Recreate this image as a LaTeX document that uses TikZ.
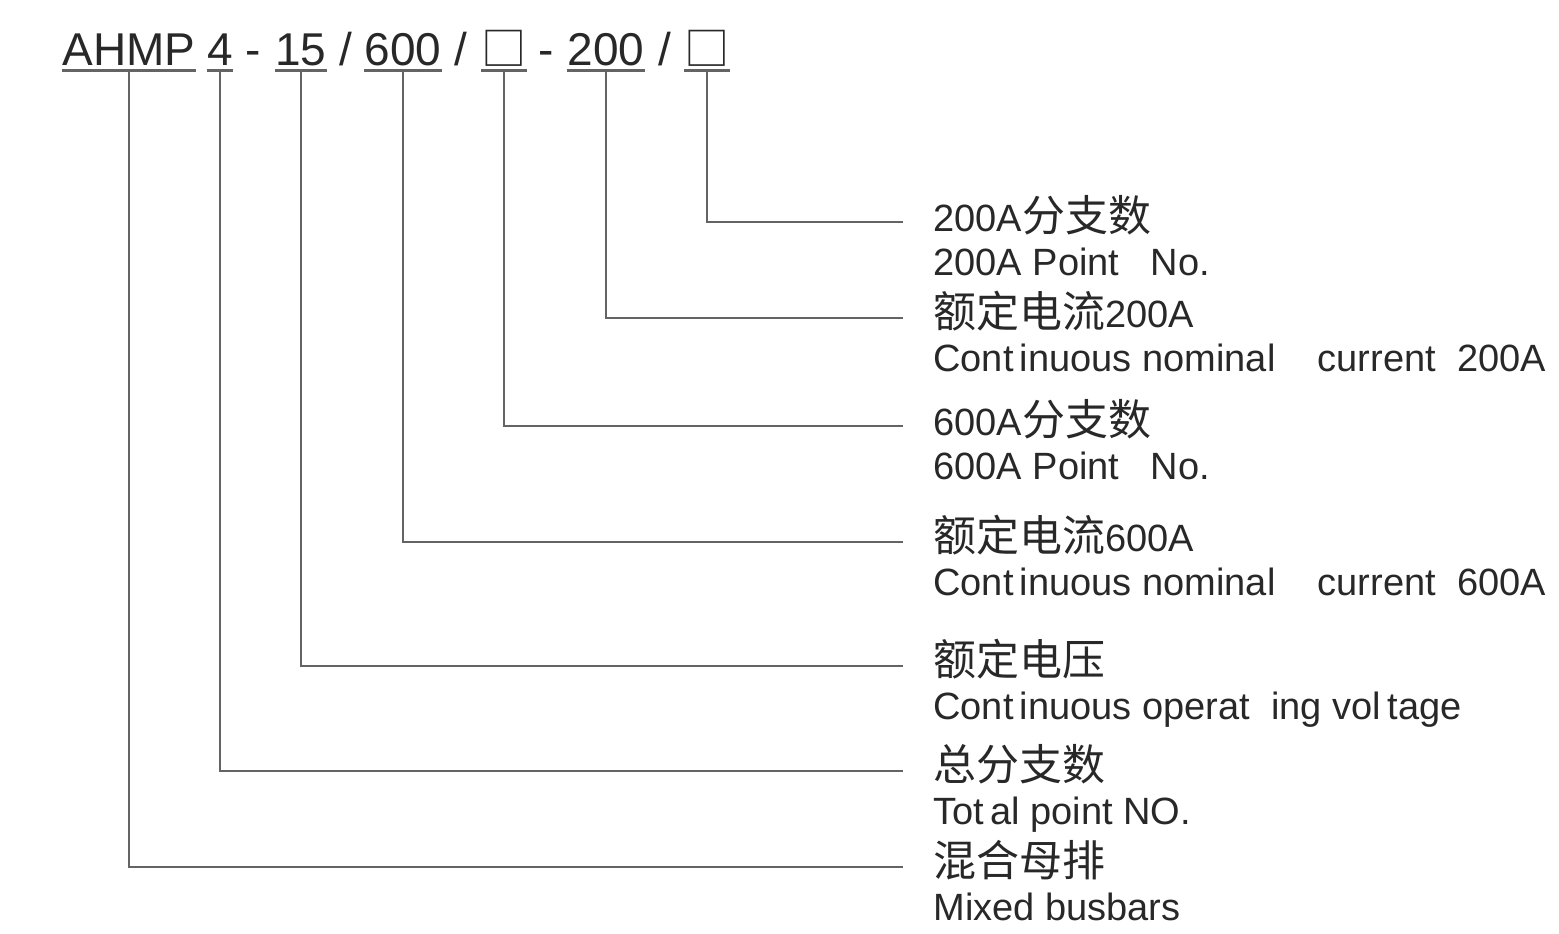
\documentclass[tikz,border=0pt]{standalone}
\usepackage{fontspec}
\setmainfont{Liberation Sans}
\newfontfamily\cjk[Scale=1.13]{Noto Sans CJK SC}
\usetikzlibrary{positioning}
\definecolor{mytext}{RGB}{40,40,40}
\definecolor{mylead}{RGB}{100,100,100}
\tikzset{
  codepart/.style={anchor=base, inner xsep=0pt, inner ysep=2.5pt, text depth=0pt,
    font=\fontsize{23}{27}\selectfont, text=mytext},
  cnlabel/.style={anchor=west, inner sep=0pt, text height=13pt, text depth=4pt,
    font=\fontsize{19}{23}\selectfont, text=mytext},
  enlabel/.style={anchor=base west, inner sep=0pt,
    font=\fontsize{19}{23}\selectfont, text=mytext},
  lead/.style={line width=1.3pt, color=mylead, shorten >=15pt},
  uline/.style={line width=1.3pt, color=mylead}
}
\newcommand{\slotbox}{{\cjk\fontsize{20}{24}\selectfont □}}

\begin{document}
\begin{tikzpicture}[x=0.5pt, y=-0.5pt]
  \useasboundingbox (0,0) rectangle (1559,933);

  % Type code
  \node[codepart] (hAHMP) at (129,65) {AHMP};
  \node[codepart] (hTotal) at (220,65) {4};
  \node[codepart] (s1) at (253,65) {-};
  \node[codepart] (hVolt) at (301,65) {15};
  \node[codepart] (s2) at (346,65) {/};
  \node[codepart] (hCur6) at (403,65) {600};
  \node[codepart] (s3) at (461,65) {/};
  \node[codepart] (hPt6) at (504,65) {\slotbox};
  \node[codepart] (s4) at (546,65) {-};
  \node[codepart] (hCur2) at (606,65) {200};
  \node[codepart] (s5) at (665,65) {/};
  \node[codepart] (hPt2) at (707,65) {\slotbox};

  \foreach \p in {hAHMP, hTotal, hVolt, hCur6, hPt6, hCur2, hPt2}
    \draw[uline] (\p.south west) -- (\p.south east);

  % Labels
  \node[cnlabel] (cPt2) at (933,222) {200A{\cjk 分支数}};
  \node[enlabel] (ePt2) at ([yshift=-22pt]cPt2.base west) {200A Point\ \ \ No.};

  \node[cnlabel] (cCur2) at (933,318) {{\cjk 额定电流}200A};
  \node[enlabel] (eCur2) at ([yshift=-22pt]cCur2.base west) {Cont\,inuous nominal\ \ \ \ current\ \ 200A};

  \node[cnlabel] (cPt6) at (933,426) {600A{\cjk 分支数}};
  \node[enlabel] (ePt6) at ([yshift=-22pt]cPt6.base west) {600A Point\ \ \ No.};

  \node[cnlabel] (cCur6) at (933,542) {{\cjk 额定电流}600A};
  \node[enlabel] (eCur6) at ([yshift=-22pt]cCur6.base west) {Cont\,inuous nominal\ \ \ \ current\ \ 600A};

  \node[cnlabel] (cVolt) at (933,666) {{\cjk 额定电压}};
  \node[enlabel] (eVolt) at ([yshift=-22pt]cVolt.base west) {Cont\,inuous operat\ \ ing vol\,tage};

  \node[cnlabel] (cTotal) at (933,771) {{\cjk 总分支数}};
  \node[enlabel] (eTotal) at ([yshift=-22pt]cTotal.base west) {Tot\,al point NO.};

  \node[cnlabel] (cMix) at (933,867) {{\cjk 混合母排}};
  \node[enlabel] (eMix) at ([yshift=-22pt]cMix.base west) {Mixed busbars};

  % Leads
  \draw[lead] (hPt2.south) |- (cPt2.west);
  \draw[lead] (hCur2.south) |- (cCur2.west);
  \draw[lead] (hPt6.south) |- (cPt6.west);
  \draw[lead] (hCur6.south) |- (cCur6.west);
  \draw[lead] (hVolt.south) |- (cVolt.west);
  \draw[lead] (hTotal.south) |- (cTotal.west);
  \draw[lead] (hAHMP.south) |- (cMix.west);
\end{tikzpicture}
\end{document}
